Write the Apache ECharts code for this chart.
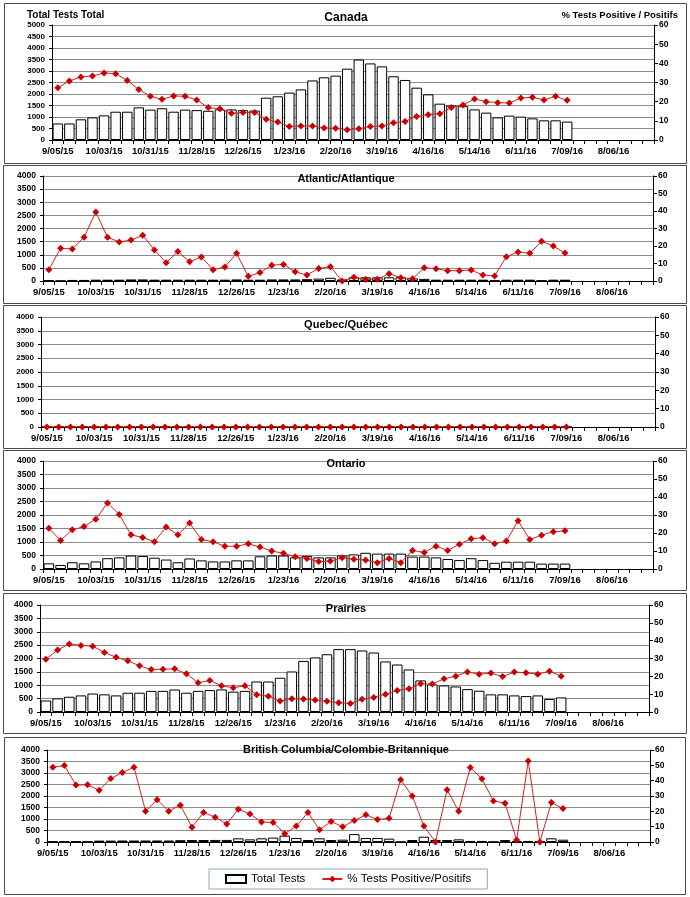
<!DOCTYPE html>
<html>
<head>
<meta charset="utf-8">
<script src="https://cdn.jsdelivr.net/npm/echarts@6/dist/echarts.min.js"></script>
<style>
html,body{margin:0;padding:0;background:#fff;}
#chart{width:690px;height:897px;}
</style>
</head>
<body>
<div id="chart"></div>
<script>
// ---- Data ----
const weeks = ["9/05/15","9/12/15","9/19/15","9/26/15","10/03/15","10/10/15","10/17/15","10/24/15","10/31/15","11/07/15","11/14/15","11/21/15","11/28/15","12/05/15","12/12/15","12/19/15","12/26/15","1/02/16","1/09/16","1/16/16","1/23/16","1/30/16","2/06/16","2/13/16","2/20/16","2/27/16","3/05/16","3/12/16","3/19/16","3/26/16","4/02/16","4/09/16","4/16/16","4/23/16","4/30/16","5/07/16","5/14/16","5/21/16","5/28/16","6/04/16","6/11/16","6/18/16","6/25/16","7/02/16","7/09/16","7/16/16","7/23/16","7/30/16","8/06/16","8/13/16","8/20/16","8/27/16"];

const panelTitles = ["Canada","Atlantic/Atlantique","Quebec/Québec","Ontario","Prairies","British Columbia/Colombie-Britannique"];

const canadaTests = [720,720,900,985,1070,1230,1230,1420,1320,1380,1230,1320,1300,1270,1330,1330,1300,1280,1840,1900,2060,2200,2590,2725,2800,3100,3500,3330,3200,2770,2610,2275,1985,1580,1500,1470,1330,1190,985,1060,1015,940,855,855,800];
const canadaPct = [27.3,30.8,32.9,33.4,35,34.6,31.1,26.3,22.8,21.2,23,22.8,20.9,16.9,16.3,13.9,14.3,14.4,10.8,9.4,7,7.3,7.3,6.3,6.1,5.4,5.9,7,7.3,9,9.7,12.3,13.2,13.7,17,18.3,21.4,20,19.5,19.3,21.9,22.3,20.9,22.8,20.7];

const atlanticTests = [30,10,40,40,50,50,50,60,60,50,50,50,50,50,50,50,60,50,50,60,60,60,70,90,120,60,140,140,140,140,140,100,80,50,50,50,50,50,20,50,50,50,20,50,50];
const atlanticPct = [6.5,18.7,18.3,25,39.4,25,22.3,23.4,26.1,17.7,10.5,16.8,11,13.7,6.5,8,15.8,2.7,4.8,9,9.5,5.3,3.4,7.2,8.2,0,2.1,1,1,4.2,1.9,1.3,7.6,7,5.9,5.9,6.3,3.4,2.9,13.9,16.6,15.8,22.7,20,16];

const quebecTests = [0,0,0,0,0,0,0,0,0,0,0,0,0,0,0,0,0,0,0,0,0,0,0,0,0,0,0,0,0,0,0,0,0,0,0,0,0,0,0,0,0,0,0,0,0];
const quebecPct = [0,0,0,0,0,0,0,0,0,0,0,0,0,0,0,0,0,0,0,0,0,0,0,0,0,0,0,0,0,0,0,0,0,0,0,0,0,0,0,0,0,0,0,0,0];

const ontarioTests = [210,150,250,210,280,400,430,500,480,420,350,250,390,320,280,280,320,320,470,500,500,430,480,430,430,500,540,600,570,570,570,460,460,430,370,330,400,330,230,270,270,270,200,200,200];
const ontarioPct = [22.7,15.9,21.8,23.6,27.7,36.7,30.3,19,17.5,15.1,23.3,19,25.5,16.4,15.1,12.7,12.6,14,12.2,10,8.7,6.8,5.9,4.1,4.4,6.3,5.4,5,3.5,5.9,3.5,10.3,9.2,12.7,10.3,13.7,16.8,17.4,14,15.5,26.8,16.4,18.8,20.7,21.2];

const prairiesTests = [430,510,570,620,690,660,620,720,720,790,790,840,720,790,820,845,760,790,1140,1140,1280,1515,1910,2040,2160,2350,2350,2300,2225,1890,1775,1590,1180,1030,995,955,855,795,660,660,620,595,620,485,545];
const prairiesPct = [29.6,34.7,38.2,37.3,36.9,33.4,30.7,28.7,25.9,23.8,24,24.2,21.4,16.4,17.7,14.7,13.6,14.7,9.7,8.9,6.1,7.5,7.3,6.7,6,5.2,4.8,7.1,8.2,9.9,12.1,13,15.8,15.7,18.6,20.1,22.5,21.2,21.8,19.9,22.4,22,21.2,22.9,20.1];

const bcTests = [20,20,25,25,60,60,65,65,65,65,65,80,85,85,90,90,160,115,160,190,275,175,85,160,85,100,345,175,175,145,5,85,230,85,85,115,45,45,10,85,45,45,10,160,100];
const bcPct = [48.8,49.9,37.1,37.3,33.7,41.4,45.3,48.8,20.1,27.6,20.1,24,9.7,19.2,16.2,11.7,21.4,18.3,13,12.7,5.4,10.4,19.2,8,13.4,9.9,14,17.7,14.7,15.5,40.6,30,10.4,0,34.1,20.1,48.6,41.2,26.8,25.3,1.3,52.9,0,25.7,21.8];

const testsMaxes = [5000,4000,4000,4000,4000,4000];
const pctMax = 60;

// ---- Layout (positions / styles only) ----
const layout = [
  {left:52, right:36, top:25,  height:115, frame:[4,3,682,160],   ty:18,  lfs:8},
  {left:43, right:37, top:176, height:105, frame:[3,165,683,138], ty:179, lfs:8.5},
  {left:41, right:35, top:317, height:110, frame:[3,305,683,143], ty:325, lfs:8},
  {left:43, right:37, top:461, height:108, frame:[3,450,683,140], ty:464, lfs:8.5},
  {left:40, right:41, top:605, height:107, frame:[3,593,683,140], ty:609, lfs:8.5},
  {left:47, right:40, top:750, height:92,  frame:[4,737,681,157], ty:750, lfs:8.5}
];

const testsSeries = [canadaTests, atlanticTests, quebecTests, ontarioTests, prairiesTests, bcTests];
const pctSeries = [canadaPct, atlanticPct, quebecPct, ontarioPct, prairiesPct, bcPct];

const FONT = '"Liberation Sans", Arial, sans-serif';

const grid = [], xAxis = [], yAxis = [], series = [], graphic = [];

layout.forEach((L, i) => {
  graphic.push({
    type:'rect', z:-1, silent:true,
    shape:{x:L.frame[0]+0.5, y:L.frame[1]+0.5, width:L.frame[2], height:L.frame[3]},
    style:{fill:'#fff', stroke:'#4a4a4a', lineWidth:1}
  });
  graphic.push({
    type:'text', z:10, silent:true, x:346, y:L.ty,
    style:{text:panelTitles[i], font:'bold ' + (i===0?12:11) + 'px ' + FONT, fill:'#000', textAlign:'center', textVerticalAlign:'middle'}
  });
  grid.push({left:L.left, right:L.right, top:L.top, height:L.height, containLabel:false});
  xAxis.push({
    type:'category', gridIndex:i, data:weeks, boundaryGap:true,
    axisLine:{lineStyle:{color:'#000', width:1}},
    axisTick:{show:true, interval:0, length:4, lineStyle:{color:'#000'}},
    axisLabel:{interval:3, color:'#000', fontFamily:FONT, fontWeight:'bold', fontSize:9.5, margin:6},
    splitLine:{show:false}
  });
  yAxis.push({
    type:'value', gridIndex:i, min:0, max:testsMaxes[i], interval:500, position:'left',
    axisLine:{show:true, lineStyle:{color:'#000'}},
    axisTick:{show:true, length:3, lineStyle:{color:'#000'}},
    axisLabel:{color:'#000', fontFamily:FONT, fontWeight:'bold', fontSize:L.lfs, margin:7, formatter:v => String(v)},
    splitLine:{show:true, lineStyle:{color:'#8c8c8c', width:1}}
  });
  yAxis.push({
    type:'value', gridIndex:i, min:0, max:pctMax, interval:10, position:'right',
    axisLine:{show:true, lineStyle:{color:'#000'}},
    axisTick:{show:true, length:4, lineStyle:{color:'#000'}},
    axisLabel:{color:'#000', fontFamily:FONT, fontWeight:'bold', fontSize:8.5, margin:5, formatter:v => String(v)},
    splitLine:{show:false}
  });
  series.push({
    name:'Total Tests', type:'bar', xAxisIndex:i, yAxisIndex:2*i,
    data:testsSeries[i], barCategoryGap:'10%',
    itemStyle:{color:'#fbfdff', borderColor:'#000', borderWidth:1},
    emphasis:{disabled:true}, animation:false, z:2
  });
  series.push({
    name:'% Tests Positive/Positifs', type:'line', xAxisIndex:i, yAxisIndex:2*i+1,
    data:pctSeries[i], symbol:'diamond', symbolSize:7, showSymbol:true,
    lineStyle:{color:'#d42020', width:1},
    itemStyle:{color:'#cc0000'},
    emphasis:{disabled:true}, animation:false, z:3
  });
});

// axis captions on Canada panel
graphic.push({type:'text', z:10, silent:true, x:27, y:15,
  style:{text:'Total Tests Total', font:'bold 10px ' + FONT, fill:'#000', textAlign:'left', textVerticalAlign:'middle'}});
graphic.push({type:'text', z:10, silent:true, x:678, y:15,
  style:{text:'% Tests Positive / Positifs', font:'bold 9.5px ' + FONT, fill:'#000', textAlign:'right', textVerticalAlign:'middle'}});

const option = {
  animation:false,
  backgroundColor:'#fff',
  grid, xAxis, yAxis, series, graphic,
  legend:{
    data:[{name:'Total Tests', icon:'rect'}, {name:'% Tests Positive/Positifs'}],
    left:209, top:869, itemGap:16, itemWidth:20, itemHeight:8,
    padding:[4,16,4,16],
    borderColor:'#8fa6c0', borderWidth:1,
    textStyle:{fontFamily:FONT, fontSize:11.5, color:'#000'},
    selectedMode:false
  }
};

const chart = echarts.init(document.getElementById('chart'), null, {renderer:'canvas'});
chart.setOption(option);
</script>
</body>
</html>
